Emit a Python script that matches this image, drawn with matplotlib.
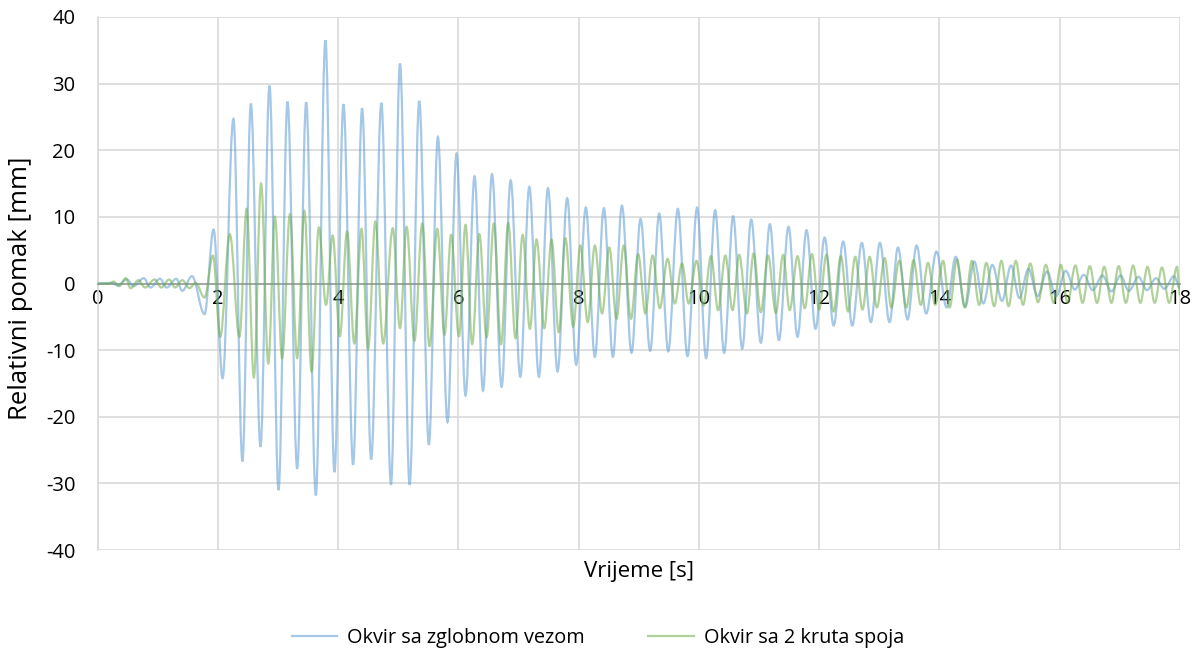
import matplotlib
matplotlib.use("Agg")
import matplotlib.pyplot as plt
from matplotlib.path import Path
from matplotlib.patches import PathPatch
from matplotlib.lines import Line2D

# ---- data: extrema (time [s], displacement [mm]) ----
hinged_t = [0.0, 0.25, 0.33, 0.49, 0.60, 0.77, 0.88, 1.04, 1.15, 1.31, 1.41, 1.57, 1.78, 1.93, 2.08,
            2.26, 2.41, 2.55, 2.71, 2.86, 3.01, 3.16, 3.32, 3.47, 3.63, 3.79, 3.94, 4.09, 4.25,
            4.40, 4.55, 4.72, 4.88, 5.03, 5.19, 5.35, 5.51, 5.66, 5.82, 5.97, 6.12, 6.27, 6.41,
            6.56, 6.72, 6.87, 7.03, 7.18, 7.34, 7.49, 7.65, 7.81, 7.96, 8.12, 8.27, 8.42, 8.57,
            8.72, 8.88, 9.03, 9.19, 9.34, 9.49, 9.65, 9.81, 9.97, 10.12, 10.27, 10.42, 10.57,
            10.72, 10.87, 11.03, 11.18, 11.33, 11.49, 11.64, 11.79, 11.94, 12.09, 12.24, 12.40,
            12.55, 12.71, 12.86, 13.01, 13.17, 13.31, 13.47, 13.62, 13.78, 13.95, 14.12, 14.27,
            14.43, 14.58, 14.73, 14.88, 15.04, 15.19, 15.33, 15.48, 15.63, 15.79, 15.94, 16.10,
            16.25, 16.40, 16.55, 16.71, 16.86, 17.01, 17.15, 17.31, 17.45, 17.60, 17.74, 17.90, 18.0]
hinged_v = [0.0, 0.1, -0.3, 0.6, -0.4, 0.8, -0.6, 0.7, -0.6, 0.7, -1.1, 1.1, -4.6, 8.1, -14.2,
            24.7, -26.7, 27.0, -24.5, 29.7, -31.0, 27.3, -27.8, 27.2, -31.8, 36.5, -28.3, 26.9, -27.2,
            26.3, -26.4, 27.1, -30.2, 33.0, -30.2, 27.4, -24.2, 22.0, -20.8, 19.5, -16.8, 16.1, -16.1,
            16.4, -15.5, 15.5, -14.0, 14.5, -14.0, 14.3, -13.2, 12.8, -12.2, 11.4, -11.0, 11.3, -11.0,
            11.7, -10.4, 9.7, -10.1, 10.5, -10.2, 11.2, -10.9, 11.4, -11.2, 11.0, -10.4, 10.1,
            -9.8, 9.6, -8.9, 8.9, -8.5, 8.5, -8.0, 8.0, -6.8, 6.9, -6.3, 6.3,
            -6.3, 6.1, -5.8, 6.1, -5.8, 5.4, -5.4, 5.7, -4.5, 4.8, -3.6, 4.0,
            -3.5, 3.3, -3.0, 2.8, -2.6, 2.7, -2.2, 2.2, -1.9, 1.8, -1.9, 1.9,
            -0.9, 1.3, -1.0, 1.2, -1.2, 1.2, -1.1, 1.0, -1.0, 0.8, -0.8, 1.1, -0.7]

rigid_t = [0.0, 0.20, 0.27, 0.36, 0.47, 0.55, 0.68, 0.79, 0.95, 1.06, 1.19, 1.29, 1.41, 1.53, 1.63,
           1.78, 1.92, 2.04, 2.20, 2.36, 2.48, 2.60, 2.72, 2.84, 2.95, 3.07, 3.20, 3.32, 3.44,
           3.56, 3.68, 3.80, 3.91, 4.03, 4.15, 4.27, 4.39, 4.50, 4.62, 4.75, 4.91, 5.03, 5.14,
           5.27, 5.40, 5.52, 5.65, 5.77, 5.88, 6.01, 6.12, 6.23, 6.35, 6.47, 6.59, 6.71, 6.83,
           6.95, 7.07, 7.19, 7.30, 7.43, 7.55, 7.67, 7.78, 7.91, 8.03, 8.15, 8.27, 8.39, 8.51,
           8.63, 8.75, 8.87, 8.99, 9.11, 9.23, 9.35, 9.48, 9.60, 9.72, 9.83, 9.96, 10.08, 10.20,
           10.32, 10.44, 10.56, 10.67, 10.80, 10.91, 11.03, 11.15, 11.28, 11.40, 11.51, 11.64,
           11.76, 11.88, 12.00, 12.12, 12.24, 12.36, 12.48, 12.60, 12.72, 12.84, 12.96, 13.09,
           13.20, 13.33, 13.45, 13.57, 13.69, 13.81, 13.93, 14.06, 14.17, 14.29, 14.42, 14.54,
           14.66, 14.78, 14.91, 15.03, 15.15, 15.27, 15.39, 15.51, 15.64, 15.77, 15.90, 16.02,
           16.13, 16.26, 16.38, 16.50, 16.62, 16.74, 16.86, 16.98, 17.10, 17.22, 17.34, 17.46,
           17.58, 17.70, 17.82, 17.95, 18.0]
rigid_v = [0.0, 0.0, 0.3, -0.4, 0.8, -0.7, 0.5, -0.6, 0.6, -0.6, 0.6, -0.6, 0.5, -0.7, 0.1,
           -2.1, 4.2, -8.0, 7.4, -8.0, 11.2, -14.1, 15.0, -12.0, 10.0, -11.2, 10.4, -11.2, 10.9,
           -13.2, 8.4, -3.2, 7.2, -7.9, 7.8, -9.0, 8.2, -9.8, 9.3, -9.0, 8.3, -6.7, 8.5,
           -8.6, 9.0, -9.4, 8.2, -7.7, 7.3, -7.9, 8.8, -9.1, 7.4, -8.1, 9.0, -9.1, 9.1,
           -8.2, 7.3, -6.8, 6.6, -6.7, 6.6, -7.3, 6.8, -6.5, 5.7, -5.8, 5.7, -4.5, 5.4,
           -5.3, 5.7, -5.3, 4.4, -4.5, 4.2, -3.7, 3.7, -3.0, 3.0, -3.0, 3.4, -3.3, 4.1,
           -4.0, 4.2, -4.0, 4.3, -4.5, 4.5, -4.3, 4.2, -4.4, 4.3, -4.0, 4.1,
           -3.7, 4.4, -3.9, 4.3, -4.2, 4.1, -4.2, 4.0, -3.9, 4.0, -3.6, 3.8,
           -3.6, 3.4, -3.6, 3.5, -3.2, 3.1, -3.2, 3.4, -3.6, 3.6, -3.6, 3.4,
           -3.2, 3.1, -3.4, 3.4, -3.4, 3.4, -3.2, 3.0, -2.8, 2.8, -2.9, 2.8,
           -2.9, 2.7, -2.9, 2.6, -2.9, 2.5, -2.9, 2.6, -2.9, 2.7, -2.9, 2.5,
           -2.9, 2.4, -2.9, 2.5, -1.8]

series_names = ["Okvir sa zglobnom vezom", "Okvir sa 2 kruta spoja"]
x_ticks = list(range(0, 19, 2))
y_ticks = list(range(-40, 41, 10))

BLUE = "#5B9BD5"
GREEN = "#70AD47"
ALPHA = 0.55

plt.rcParams['font.family'] = ['Open Sans', 'DejaVu Sans']

fig = plt.figure(figsize=(12.04, 6.56), dpi=100)
ax = fig.add_axes([97.5 / 1204, 1 - 550 / 656, (1180 - 97.5) / 1204, (550 - 17) / 656])


def smooth_path(ts, vs, k=0.36):
    verts = [(ts[0], vs[0])]
    codes = [Path.MOVETO]
    for i in range(len(ts) - 1):
        t0, v0, t1, v1 = ts[i], vs[i], ts[i + 1], vs[i + 1]
        dt = t1 - t0
        verts += [(t0 + k * dt, v0), (t1 - k * dt, v1), (t1, v1)]
        codes += [Path.CURVE4] * 3
    return Path(verts, codes)


for ts, vs, col in [(hinged_t, hinged_v, BLUE), (rigid_t, rigid_v, GREEN)]:
    patch = PathPatch(smooth_path(ts, vs), facecolor="none", edgecolor=col,
                      lw=1.6, alpha=ALPHA, transform=ax.transData, zorder=3)
    ax.add_patch(patch)

ax.set_xlim(0, 18)
ax.set_ylim(-40, 40)
ax.set_xticks(x_ticks)
ax.set_yticks(y_ticks)
ax.set_xticklabels([str(v) for v in x_ticks])
ax.set_yticklabels([str(v) for v in y_ticks])
ax.grid(True, color="#D9D9D9", lw=1.2, zorder=0)
ax.set_axisbelow(True)

for s in ["top", "right"]:
    ax.spines[s].set_visible(False)
ax.spines["left"].set_color("#D9D9D9")
ax.spines["left"].set_linewidth(1.2)
ax.spines["bottom"].set_position(("data", 0))
ax.spines["bottom"].set_color("#A6A6A6")
ax.spines["bottom"].set_linewidth(1.4)
ax.spines["bottom"].set_zorder(2.5)
ax.tick_params(axis="both", length=0, labelsize=14.5, colors="#000000")
ax.tick_params(axis="x", pad=4)
ax.tick_params(axis="y", pad=16)
for lbl in ax.get_yticklabels():
    lbl.set_horizontalalignment("right")

fig.text(639 / 1204, 1 - 571 / 656, "Vrijeme [s]", ha="center", va="center", fontsize=16)
fig.text(21 / 1204, 1 - 288 / 656, "Relativni pomak [mm]", ha="center", va="center",
         rotation=90, fontsize=18.5)

handles = [Line2D([], [], color=BLUE, alpha=ALPHA, lw=1.6),
           Line2D([], [], color=GREEN, alpha=ALPHA, lw=1.6)]
fig.legend(handles, series_names, loc="center", bbox_to_anchor=(598 / 1204, 1 - 638 / 656),
           ncol=2, frameon=False, fontsize=14.3, handlelength=2.3, handletextpad=0.5,
           columnspacing=3.2)

fig.savefig("out.png", dpi=100)
